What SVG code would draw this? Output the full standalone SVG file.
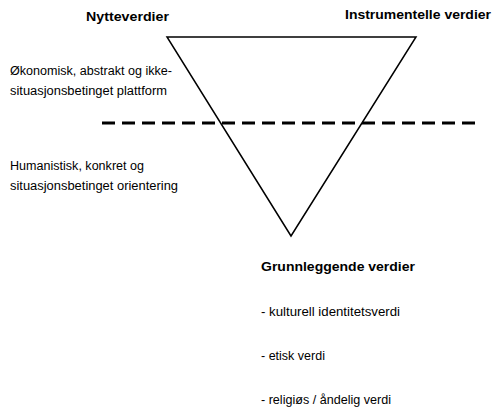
<svg xmlns="http://www.w3.org/2000/svg" width="497" height="410" viewBox="0 0 497 410">
<style>
text{font-family:"Liberation Sans",Arial,sans-serif;fill:#000}
.b{font-weight:bold;font-size:13px}
.r{font-size:12px}
.tri{fill:none;stroke:#000;stroke-width:1.5}
.dash{stroke:#000;stroke-width:3;stroke-dasharray:13 7}
</style>
<rect width="497" height="410" fill="#fff"/>
<g id="connectors">
<line class="dash" x1="102" y1="123" x2="479" y2="123"/>
</g>
<g id="triangle">
<polygon class="tri" points="167,37 416,37 291,236"/>
</g>
<g id="nytteverdier"><text class="b" x="86" y="21" textLength="83" lengthAdjust="spacingAndGlyphs">Nytteverdier</text></g>
<g id="instrumentelle"><text class="b" x="345" y="19" textLength="146" lengthAdjust="spacingAndGlyphs">Instrumentelle verdier</text></g>
<g id="okonomisk">
<text class="r" x="10" y="75" textLength="162" lengthAdjust="spacingAndGlyphs">Økonomisk, abstrakt og ikke-</text>
<text class="r" x="10" y="95" textLength="157" lengthAdjust="spacingAndGlyphs">situasjonsbetinget plattform</text>
</g>
<g id="humanistisk">
<text class="r" x="10" y="170" textLength="134" lengthAdjust="spacingAndGlyphs">Humanistisk, konkret og</text>
<text class="r" x="10" y="190" textLength="168" lengthAdjust="spacingAndGlyphs">situasjonsbetinget orientering</text>
</g>
<g id="grunnleggende">
<text class="b" x="261" y="271" textLength="154" lengthAdjust="spacingAndGlyphs">Grunnleggende verdier</text>
<text class="r" x="261" y="316" textLength="139" lengthAdjust="spacingAndGlyphs">- kulturell identitetsverdi</text>
<text class="r" x="261" y="360" textLength="64" lengthAdjust="spacingAndGlyphs">- etisk verdi</text>
<text class="r" x="261" y="404" textLength="130" lengthAdjust="spacingAndGlyphs">- religiøs / åndelig verdi</text>
</g>
</svg>
